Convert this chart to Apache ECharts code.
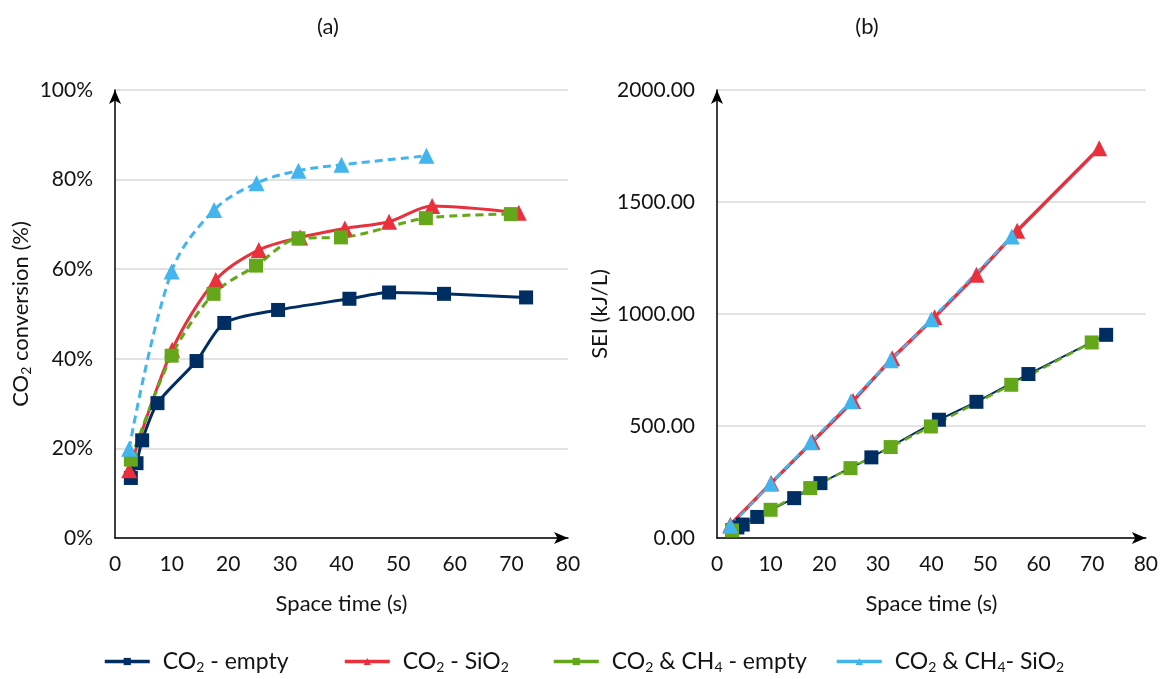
<!DOCTYPE html>
<html>
<head>
<meta charset="utf-8">
<script src="https://cdn.jsdelivr.net/npm/echarts@6/dist/echarts.min.js"></script>
<style>
html,body{margin:0;padding:0;background:#fff;}
#c{width:1161px;height:679px;}
</style>
</head>
<body>
<div id="c"></div>
<script>
// ---- data ----
const seriesNames = ['CO2 - empty', 'CO2 - SiO2', 'CO2 & CH4 - empty', 'CO2 & CH4- SiO2'];

const navyX    = [2.8, 3.8, 4.8, 7.5, 14.4, 19.3, 28.8, 41.4, 48.4, 58.1, 72.6];
const navyConv = [13.4, 16.7, 21.8, 30.1, 39.5, 48.0, 50.9, 53.4, 54.8, 54.5, 53.7];
const navySEI  = [35, 47, 60, 94, 178, 245, 360, 528, 608, 732, 907];

const redX    = [2.5, 10.1, 17.8, 25.4, 32.7, 40.6, 48.4, 56.0, 71.3];
const redConv = [15.1, 42.0, 57.6, 64.3, 67.1, 69.1, 70.6, 74.1, 72.6];
const redSEI  = [59, 245, 430, 612, 803, 986, 1175, 1372, 1740];

const greenX    = [2.8, 10.0, 17.4, 24.9, 32.4, 39.9, 54.9, 69.9];
const greenConv = [17.5, 40.7, 54.5, 60.8, 66.9, 67.1, 71.4, 72.3];
const greenSEI  = [34, 126, 223, 312, 406, 498, 684, 873];

const cyanX    = [2.5, 10.0, 17.5, 25.0, 32.4, 40.0, 55.0];
const cyanConv = [19.9, 59.5, 73.2, 79.2, 82.0, 83.3, 85.3];
const cyanSEI  = [55, 242, 427, 610, 793, 977, 1346];

const xTicks = [0, 10, 20, 30, 40, 50, 60, 70, 80];
const convTicks = [0, 20, 40, 60, 80, 100];
const seiTicks = [0, 500, 1000, 1500, 2000];

// ---- styling ----
const FONT = 'Lato';
const TXT = '#141414';
const C_NAVY = '#002E62', C_RED = '#E9303C', C_GREEN = '#65A71A', C_CYAN = '#43B5EE';

function pairs(xs, ys){ return xs.map((x,i)=>[x, ys[i]]); }

const rich = {
  n: {fontFamily: FONT, fontSize: 23, color: TXT},
  s: {fontFamily: FONT, fontSize: 14, color: TXT, padding: [12, 0, 0, 0]}
};
const legendLabels = {
  'CO2 - empty': '{n|CO}{s|2}{n| - empty}',
  'CO2 - SiO2': '{n|CO}{s|2}{n| - SiO}{s|2}',
  'CO2 & CH4 - empty': '{n|CO}{s|2}{n| & CH}{s|4}{n| - empty}',
  'CO2 & CH4- SiO2': '{n|CO}{s|2}{n| & CH}{s|4}{n|- SiO}{s|2}'
};

function xAxisDef(grid){
  return {
    gridIndex: grid, type: 'value', min: xTicks[0], max: xTicks[xTicks.length-1], interval: 10,
    name: 'Space time (s)', nameLocation: 'middle', nameGap: 55,
    nameTextStyle: {fontFamily: FONT, fontSize: 22, color: TXT},
    axisLine: {show: true, lineStyle: {color: '#000', width: 1.5}, symbol: ['none', 'arrow'], symbolSize: [9, 14]},
    axisTick: {show: false},
    axisLabel: {fontFamily: FONT, fontSize: 21, color: TXT, margin: 16},
    splitLine: {show: false}
  };
}

const SQ = 14, TRI = 16;

const option = {
  animation: false,
  backgroundColor: '#fff',
  grid: [
    {left: 115, top: 90, width: 453, height: 448},
    {left: 717, top: 90, width: 430, height: 448}
  ],
  xAxis: [xAxisDef(0), xAxisDef(1)],
  yAxis: [
    {
      gridIndex: 0, type: 'value', min: convTicks[0], max: convTicks[convTicks.length-1], interval: 20,
      name: '{n|CO}{s|2}{n| conversion (%)}', nameLocation: 'middle', nameGap: 82, nameRotate: 90,
      nameTextStyle: {rich: {n: {fontFamily: FONT, fontSize: 22, color: TXT}, s: {fontFamily: FONT, fontSize: 14, color: TXT, padding: [11,0,0,0]}}},
      axisLine: {show: true, lineStyle: {color: '#000', width: 1.5}, symbol: ['none', 'arrow'], symbolSize: [9, 14]},
      axisTick: {show: false},
      axisLabel: {fontFamily: FONT, fontSize: 21, color: TXT, margin: 22, formatter: '{value}%'},
      splitLine: {show: true, lineStyle: {color: '#d9d9d9', width: 1.5}}
    },
    {
      gridIndex: 1, type: 'value', min: seiTicks[0], max: seiTicks[seiTicks.length-1], interval: 500,
      name: 'SEI (kJ/L)', nameLocation: 'middle', nameGap: 106, nameRotate: 90,
      nameTextStyle: {fontFamily: FONT, fontSize: 22, color: TXT},
      axisLine: {show: true, lineStyle: {color: '#000', width: 1.5}, symbol: ['none', 'arrow'], symbolSize: [9, 14]},
      axisTick: {show: false},
      axisLabel: {fontFamily: FONT, fontSize: 21, color: TXT, margin: 22, formatter: v => v.toFixed(2)},
      splitLine: {show: true, lineStyle: {color: '#d9d9d9', width: 1.5}}
    }
  ],
  legend: [103, 343, 552, 835].map((left, i) => ({
    data: [seriesNames[i]], left: left, top: 650, padding: 0,
    itemWidth: 45, itemHeight: 9,
    lineStyle: {type: 'solid', width: 3.5},
    textStyle: {rich: rich, padding: [0, 0, 0, 8]},
    formatter: name => legendLabels[name]
  })),
  graphic: [
    {type: 'text', x: 328, y: 27, style: {text: '(a)', font: '22px ' + FONT, fill: TXT, align: 'center', verticalAlign: 'middle'}},
    {type: 'text', x: 867, y: 27, style: {text: '(b)', font: '22px ' + FONT, fill: TXT, align: 'center', verticalAlign: 'middle'}}
  ],
  series: [
    // left chart (a)
    {name: seriesNames[0], type: 'line', xAxisIndex: 0, yAxisIndex: 0, data: pairs(navyX, navyConv), smooth: 0.25,
      symbol: 'rect', symbolSize: SQ, itemStyle: {color: C_NAVY}, lineStyle: {color: C_NAVY, width: 3}},
    {name: seriesNames[1], type: 'line', xAxisIndex: 0, yAxisIndex: 0, data: pairs(redX, redConv), smooth: 0.3,
      symbol: 'triangle', symbolSize: TRI, itemStyle: {color: C_RED}, lineStyle: {color: C_RED, width: 3}},
    {name: seriesNames[2], type: 'line', xAxisIndex: 0, yAxisIndex: 0, data: pairs(greenX, greenConv), smooth: 0.3,
      symbol: 'rect', symbolSize: SQ, itemStyle: {color: C_GREEN}, lineStyle: {color: C_GREEN, width: 3, type: [8, 5]}},
    {name: seriesNames[3], type: 'line', xAxisIndex: 0, yAxisIndex: 0, data: pairs(cyanX, cyanConv), smooth: 0.35,
      symbol: 'triangle', symbolSize: TRI, itemStyle: {color: C_CYAN}, lineStyle: {color: C_CYAN, width: 3, type: [8, 5]}},
    // right chart (b)
    {name: seriesNames[0], type: 'line', xAxisIndex: 1, yAxisIndex: 1, data: pairs(navyX, navySEI), smooth: false,
      symbol: 'rect', symbolSize: SQ, itemStyle: {color: C_NAVY}, lineStyle: {color: C_NAVY, width: 2}},
    {name: seriesNames[1], type: 'line', xAxisIndex: 1, yAxisIndex: 1, data: pairs(redX, redSEI), smooth: false,
      symbol: 'triangle', symbolSize: TRI, itemStyle: {color: C_RED}, lineStyle: {color: C_RED, width: 3.5}},
    {name: seriesNames[2], type: 'line', xAxisIndex: 1, yAxisIndex: 1, data: pairs(greenX, greenSEI), smooth: false,
      symbol: 'rect', symbolSize: SQ, itemStyle: {color: C_GREEN}, lineStyle: {color: C_GREEN, width: 2.5, type: [8, 5]}},
    {name: seriesNames[3], type: 'line', xAxisIndex: 1, yAxisIndex: 1, data: pairs(cyanX, cyanSEI), smooth: false,
      symbol: 'triangle', symbolSize: TRI, itemStyle: {color: C_CYAN}, lineStyle: {color: C_CYAN, width: 2.5, type: [8, 5]}}
  ]
};

const chart = echarts.init(document.getElementById('c'), null, {renderer: 'canvas'});
chart.setOption(option);
</script>
</body>
</html>
